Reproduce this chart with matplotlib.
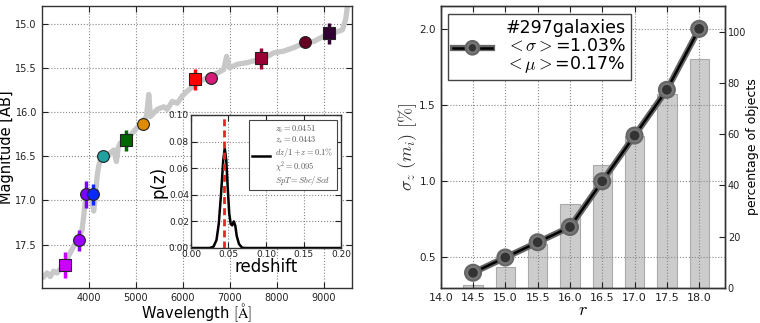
import matplotlib
matplotlib.use("Agg")
import matplotlib.pyplot as plt
import matplotlib.patheffects as pe

plt.rcParams["mathtext.fontset"] = "cm"
plt.rcParams["font.family"] = ["DejaVu Sans"]

# --- left panel: galaxy spectrum + photometry ---
spec_wl = [3006, 3028, 3113, 3183, 3254, 3326, 3467, 3610, 3680, 3787, 3859, 3893,
           3930, 3966, 4036, 4107, 4143, 4179, 4213, 4249, 4313, 4392, 4463, 4533,
           4590, 4630, 4676, 4797, 4959, 5173, 5230, 5279, 5315, 5458, 5599, 5671,
           5778, 5885, 5991, 6062, 6168, 6311, 6524, 6737, 6872, 6936, 6999, 7164,
           7377, 7590, 7731, 7944, 8157, 8371, 8584, 8797, 9010, 9189, 9402, 9473,
           9509, 9537]
spec_mag = [17.86, 17.87, 17.82, 17.86, 17.80, 17.82, 17.73, 17.59, 17.52, 17.42, 17.33, 17.18,
            16.99, 16.91, 16.93, 17.12, 16.95, 16.73, 16.61, 16.54, 16.50, 16.50, 16.46, 16.43,
            16.56, 16.40, 16.35, 16.32, 16.22, 16.09, 16.05, 15.80, 16.05, 15.97, 15.94, 15.97,
            15.88, 15.90, 15.82, 15.78, 15.73, 15.67, 15.61, 15.56, 15.52, 15.37, 15.50, 15.46,
            15.44, 15.41, 15.39, 15.33, 15.31, 15.27, 15.22, 15.20, 15.14, 15.11, 15.07, 14.95,
            14.80, 14.67]

filt_wl = [3485, 3785, 3950, 4100, 4300, 4803, 5150, 6254, 6600, 7668, 8610, 9114]
filt_mag = [17.73, 17.45, 16.93, 16.93, 16.50, 16.32, 16.14, 15.63, 15.61, 15.39, 15.21, 15.11]
filt_err = [0.15, 0.12, 0.15, 0.12, 0.04, 0.12, 0.04, 0.12, 0.04, 0.12, 0.04, 0.12]
filt_marker = ["s", "o", "o", "o", "o", "s", "o", "s", "o", "s", "o", "s"]
filt_color = ["#cc00ff", "#9900ff", "#7a00ff", "#0a2aff", "#1fa3a0", "#006600",
              "#e08a00", "#ff0000", "#d81a78", "#990033", "#660022", "#330033"]

# --- inset: p(z) ---
pz_z = [0.0, 0.025, 0.030, 0.034, 0.037, 0.040, 0.043, 0.045, 0.047, 0.049, 0.051,
        0.053, 0.055, 0.057, 0.059, 0.061, 0.064, 0.068, 0.072, 0.20]
pz_p = [0.0, 0.0, 0.001, 0.006, 0.018, 0.040, 0.066, 0.075, 0.066, 0.045, 0.026,
        0.018, 0.017, 0.020, 0.017, 0.009, 0.003, 0.0003, 0.0, 0.0]
z_spec = 0.0443
pz_label = ("$z_b=0.0451$\n$z_s=0.0443$\n$dz/1+z=0.1\\%$\n"
            "$\\chi^2=0.095$\n$SpT=Sbc/Scd$")

# --- right panel: scatter vs magnitude ---
r_mag = [14.5, 15.0, 15.5, 16.0, 16.5, 17.0, 17.5, 18.0]
sigma_z = [0.40, 0.50, 0.60, 0.70, 1.00, 1.30, 1.60, 2.00]
pct_obj = [1.2, 8.0, 17.2, 32.8, 48.1, 59.4, 75.7, 89.3]
stats_label = "#297galaxies\n$<\\sigma>$=1.03%\n$<\\mu>$=0.17%"


def style_axes(ax, size):
    ax.tick_params(direction="in", labelsize=size, length=4, top=True, right=True,
                   colors="#222222")
    ax.grid(True, linestyle=":", color="#888888", linewidth=0.8)
    for s in ax.spines.values():
        s.set_linewidth(1.0)
        s.set_color("#333333")


fig = plt.figure(figsize=(7.6, 3.23), dpi=100)

ax1 = fig.add_axes([0.0549, 0.1084, 0.4079, 0.8731])
ax1.plot(spec_wl, spec_mag, color="#c8c8c8", linewidth=3.8, zorder=2)
for wl, mg, er, mk, col in zip(filt_wl, filt_mag, filt_err, filt_marker, filt_color):
    ax1.errorbar([wl], [mg], yerr=[er], fmt="none", ecolor=col, elinewidth=2.5, zorder=3)
    ax1.plot([wl], [mg], marker=mk, color=col, markersize=8.5 if mk == "o" else 8,
             markeredgecolor="#222222", markeredgewidth=0.8, linestyle="none", zorder=4)
ax1.set_xlim(3000, 9600)
ax1.set_ylim(17.99, 14.8)
ax1.set_xticks([4000, 5000, 6000, 7000, 8000, 9000])
ax1.set_yticks([15.0, 15.5, 16.0, 16.5, 17.0, 17.5])
style_axes(ax1, 7)
ax1.set_xlabel("Wavelength $[\\rm\\AA]$", fontsize=10.5, labelpad=-1)
ax1.set_ylabel("Magnitude [AB]", fontsize=10.5, labelpad=1)

axin = fig.add_axes([0.2513, 0.2322, 0.1974, 0.4118])
axin.plot(pz_z, pz_p, color="black", linewidth=1.8, label=pz_label)
axin.axvline(z_spec, color="#ee2222", linestyle="--", linewidth=2, dashes=(2.5, 1.5))
axin.set_xlim(0, 0.2)
axin.set_ylim(0, 0.1)
axin.set_xticks([0.0, 0.05, 0.10, 0.15, 0.20])
axin.set_xticklabels(["0.00", "0.05", "0.10", "0.15", "0.20"])
axin.set_yticks([0.0, 0.02, 0.04, 0.06, 0.08, 0.10])
axin.set_yticklabels(["0.00", "0.02", "0.04", "0.06", "0.08", "0.10"])
style_axes(axin, 6.5)
axin.tick_params(pad=1.5)
axin.set_xlabel("redshift", fontsize=12, labelpad=-1)
axin.set_ylabel("p(z)", fontsize=12, labelpad=1)
leg_in = axin.legend(loc="upper right", fontsize=6, handlelength=2.2, fancybox=False,
                     framealpha=1, edgecolor="#444444", borderpad=0.35,
                     handletextpad=0.6, borderaxespad=0,
                     bbox_to_anchor=(0.97, 0.965))
for t in leg_in.get_texts():
    t.set_color("#555555")
    t.set_linespacing(1.0)
leg_in.get_frame().set_linewidth(0.8)

ax2 = fig.add_axes([0.5799, 0.1084, 0.3741, 0.8731])
ax3 = ax2.twinx()
ax3.bar(r_mag, pct_obj, width=0.3, color="#cccccc", edgecolor="#aaaaaa", linewidth=0.8)
ax3.set_ylim(0, 110)
ax3.set_yticks([0, 20, 40, 60, 80, 100])
ax3.tick_params(direction="in", labelsize=7, length=4, pad=2, colors="#222222")
ax3.set_ylabel("percentage of objects", fontsize=9, labelpad=0)

ax2.set_zorder(ax3.get_zorder() + 1)
ax2.patch.set_visible(False)
ax2.plot(r_mag, sigma_z, color="black", linewidth=1.8, marker="o", markersize=8.5,
         markerfacecolor="#333333", markeredgecolor="#777777", markeredgewidth=1.5,
         label=stats_label,
         path_effects=[pe.Stroke(linewidth=4.5, foreground="#666666"), pe.Normal()])
ax2.set_xlim(14.0, 18.4)
ax2.set_ylim(0.3, 2.15)
ax2.set_xticks([14.0, 14.5, 15.0, 15.5, 16.0, 16.5, 17.0, 17.5, 18.0])
ax2.set_yticks([0.5, 1.0, 1.5, 2.0])
style_axes(ax2, 8)
ax2.tick_params(right=False)
ax2.tick_params(axis="y", labelsize=7.5)
ax2.set_xlabel("$r$", fontsize=13, labelpad=-1)
ax2.set_ylabel("$\\sigma_z\\ (m_i)\\ [\\%]$", fontsize=13, color="#333333", labelpad=0)
for s in ax3.spines.values():
    s.set_linewidth(1.0)
    s.set_color("#333333")
leg = ax2.legend(loc="upper left", fontsize=12.5, handlelength=2.2, fancybox=False,
                 framealpha=1, edgecolor="#444444", borderpad=0.3, labelspacing=0.2,
                 markerscale=0.8, borderaxespad=0, bbox_to_anchor=(0.026, 0.972))
for t in leg.get_texts():
    t.set_multialignment("center")
    t.set_linespacing(0.95)
leg.get_frame().set_linewidth(1.0)

fig.savefig("out.png", dpi=100)
